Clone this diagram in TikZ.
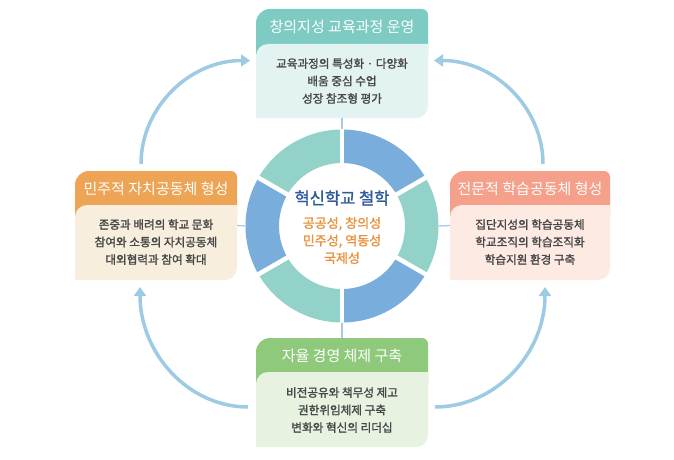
\documentclass[tikz,border=0pt]{standalone}
\usepackage{fontspec}
\setmainfont{Noto Sans CJK KR}
\newfontfamily\medfont{Noto Sans CJK KR}[FakeBold=1.6]
\usetikzlibrary{arrows.meta}
\definecolor{tealhead}{HTML}{7DCBC3}
\definecolor{tealbody}{HTML}{E2F3F1}
\definecolor{orangehead}{HTML}{EEA455}
\definecolor{orangebody}{HTML}{F7EEDD}
\definecolor{salmonhead}{HTML}{F4A08A}
\definecolor{salmonbody}{HTML}{FDEBE3}
\definecolor{greenhead}{HTML}{8FC97B}
\definecolor{greenbody}{HTML}{E7F2E0}
\definecolor{ringblue}{HTML}{79ADDB}
\definecolor{ringteal}{HTML}{92D2C8}
\definecolor{arrowblue}{HTML}{9CCBE3}
\definecolor{spokeblue}{HTML}{A5CCE4}
\definecolor{titleblue}{HTML}{2E5A9C}
\definecolor{valueorange}{HTML}{E9923D}
\definecolor{cardtext}{HTML}{474747}

\begin{document}
\begin{tikzpicture}[x=1pt, y=-1pt,
    cardframe/.style={rectangle, inner sep=0pt, outer sep=0pt},
    headtext/.style={font=\fontsize{15}{18}\selectfont, color=white},
    bodytext/.style={font=\medfont\fontsize{11.6}{17.5}\selectfont, color=cardtext, align=center},
    flowarrow/.style={line width=3.5pt, color=arrowblue, -{Triangle[width=12pt,length=9pt]}},
    spoke/.style={line width=1.3pt, color=spokeblue}]
    \useasboundingbox (0,0) rectangle (674,460);

    % === Top: curriculum ===
    \node[cardframe, minimum width=172pt, minimum height=109pt] (topcard) at (342,63.5) {};
    \fill[tealhead] (256,56) -- (256,23) arc[start angle=180, end angle=270, radius=14] -- (422,9) arc[start angle=270, end angle=360, radius=6] -- (428,56) -- cycle;
    \fill[tealbody] (256,118) -- (256,56) arc[start angle=180, end angle=270, radius=12] -- (428,44) -- (428,106) arc[start angle=0, end angle=90, radius=12] -- cycle;
    \node[headtext] (tophead) at (342,27) {창의지성 교육과정 운영};
    \node[bodytext] (topbody) at (342,81) {교육과정의 특성화 · 다양화\\배움 중심 수업\\성장 참조형 평가};

    % === Left: democratic community ===
    \node[cardframe, minimum width=162pt, minimum height=109pt] (leftcard) at (156,225.5) {};
    \fill[orangehead] (75,217) -- (75,185) arc[start angle=180, end angle=270, radius=14] -- (231,171) arc[start angle=270, end angle=360, radius=6] -- (237,217) -- cycle;
    \fill[orangebody] (75,280) -- (75,217) arc[start angle=180, end angle=270, radius=12] -- (237,205) -- (237,268) arc[start angle=0, end angle=90, radius=12] -- cycle;
    \node[headtext] (lefthead) at (156,189) {민주적 자치공동체 형성};
    \node[bodytext] (leftbody) at (156,242) {존중과 배려의 학교 문화\\참여와 소통의 자치공동체\\대외협력과 참여 확대};

    % === Right: learning community ===
    \node[cardframe, minimum width=160pt, minimum height=109pt] (rightcard) at (530,225.5) {};
    \fill[salmonhead] (450,217) -- (450,185) arc[start angle=180, end angle=270, radius=14] -- (604,171) arc[start angle=270, end angle=360, radius=6] -- (610,217) -- cycle;
    \fill[salmonbody] (450,280) -- (450,217) arc[start angle=180, end angle=270, radius=12] -- (610,205) -- (610,268) arc[start angle=0, end angle=90, radius=12] -- cycle;
    \node[headtext] (righthead) at (530,189) {전문적 학습공동체 형성};
    \node[bodytext] (rightbody) at (530,242) {집단지성의 학습공동체\\학교조직의 학습조직화\\학습지원 환경 구축};

    % === Bottom: management ===
    \node[cardframe, minimum width=172pt, minimum height=109pt] (bottomcard) at (342,392.5) {};
    \fill[greenhead] (256,384) -- (256,352) arc[start angle=180, end angle=270, radius=14] -- (422,338) arc[start angle=270, end angle=360, radius=6] -- (428,384) -- cycle;
    \fill[greenbody] (256,447) -- (256,384) arc[start angle=180, end angle=270, radius=12] -- (428,372) -- (428,435) arc[start angle=0, end angle=90, radius=12] -- cycle;
    \node[headtext] (bottomhead) at (342,356) {자율 경영 체제 구축};
    \node[bodytext] (bottombody) at (342,410) {비전공유와 책무성 제고\\권한위임체제 구축\\변화와 혁신의 리더십};

    % === Center ring ===
    \node[circle, minimum size=193pt, inner sep=0pt] (ring) at (342,226) {};
    \foreach \a/\c in {30/ringblue, 90/ringteal, 150/ringblue, 210/ringteal, 270/ringblue, 330/ringteal}
        \fill[\c, shift={(ring.center)}] (\a:96.5) arc[start angle=\a, end angle=\a+60, radius=96.5] -- (\a+60:63) arc[start angle=\a+60, end angle=\a, radius=63] -- cycle;
    \foreach \a in {30,90,...,330}
        \draw[white, line width=4.5pt] (ring.center) -- ++(\a:97);
    \node[font=\medfont\fontsize{16.5}{19}\selectfont, color=titleblue] (philo) at (342,198) {혁신학교 철학};
    \node[font=\medfont\fontsize{13}{17.5}\selectfont, color=valueorange, align=center] (values) at (342,240.5) {공공성, 창의성\\민주성, 역동성\\국제성};

    % Spokes
    \draw[spoke] (topcard.south) -- (ring.north);
    \draw[spoke] (leftcard.east) -- (ring.west);
    \draw[spoke] (ring.east) -- (rightcard.west);
    \draw[spoke] (ring.south) -- (bottomcard.north);

    % Flow arrows
    \draw[flowarrow] ([xshift=-15pt,yshift=7pt]leftcard.north) .. controls +(0,-57) and +(-60,0) .. ([xshift=-6pt,yshift=3pt]topcard.west);
    \draw[flowarrow] ([xshift=13pt,yshift=7pt]rightcard.north) .. controls +(0,-57) and +(60,0) .. ([xshift=6pt,yshift=3pt]topcard.east);
    \draw[flowarrow] ([xshift=7pt,yshift=-14.5pt]bottomcard.east) .. controls +(61,0) and +(0,66) .. ([xshift=15pt,yshift=-7pt]rightcard.south);
    \draw[flowarrow] ([xshift=-8pt,yshift=-14.5pt]bottomcard.west) .. controls +(-60,0) and +(0,66) .. ([xshift=-16pt,yshift=-7pt]leftcard.south);
\end{tikzpicture}
\end{document}
